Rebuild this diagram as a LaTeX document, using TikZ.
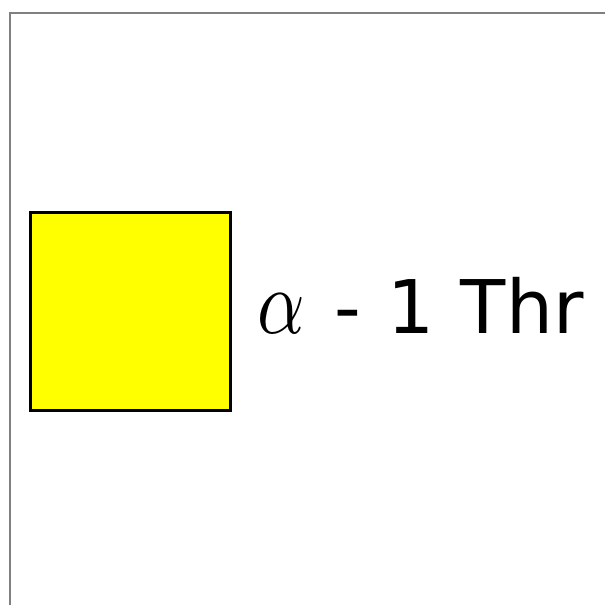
\documentclass[tikz,border=0pt]{standalone}
\usepackage{fontspec}
\setmainfont{DejaVu Sans}
\usepackage{xcolor}
\usepackage{tikz}
\usetikzlibrary{positioning}
\definecolor{swatchyellow}{RGB}{255,255,0}
\tikzstyle{frameline} = [draw=gray, line width=1.4pt]
\tikzstyle{swatch} = [rectangle, minimum width=200pt, minimum height=198pt, draw=black, line width=3pt, fill=swatchyellow, inner sep=0pt]
\tikzstyle{legendtext} = [anchor=base west, inner sep=0pt, font=\fontsize{74}{80}\selectfont]

\begin{document}
\begin{tikzpicture}[x=1pt, y=-1pt]
    \useasboundingbox (0,0) rectangle (605,605);
    % Nodes
    \coordinate (corner) at (10,13);
    \coordinate (topend) at (605,13);
    \coordinate (leftend) at (10,605);
    \node [swatch] (box) at (130,311) {};
    \node [legendtext] (label) at (257,333) {\scalebox{7.4}[9.2]{\normalsize$\alpha$}\hspace{0.08em} -\hspace{0.04em} 1\hspace{0.04em} Thr};

    % Frame
    \path [frameline] (leftend) -- (corner) -- (topend);
\end{tikzpicture}
\end{document}
